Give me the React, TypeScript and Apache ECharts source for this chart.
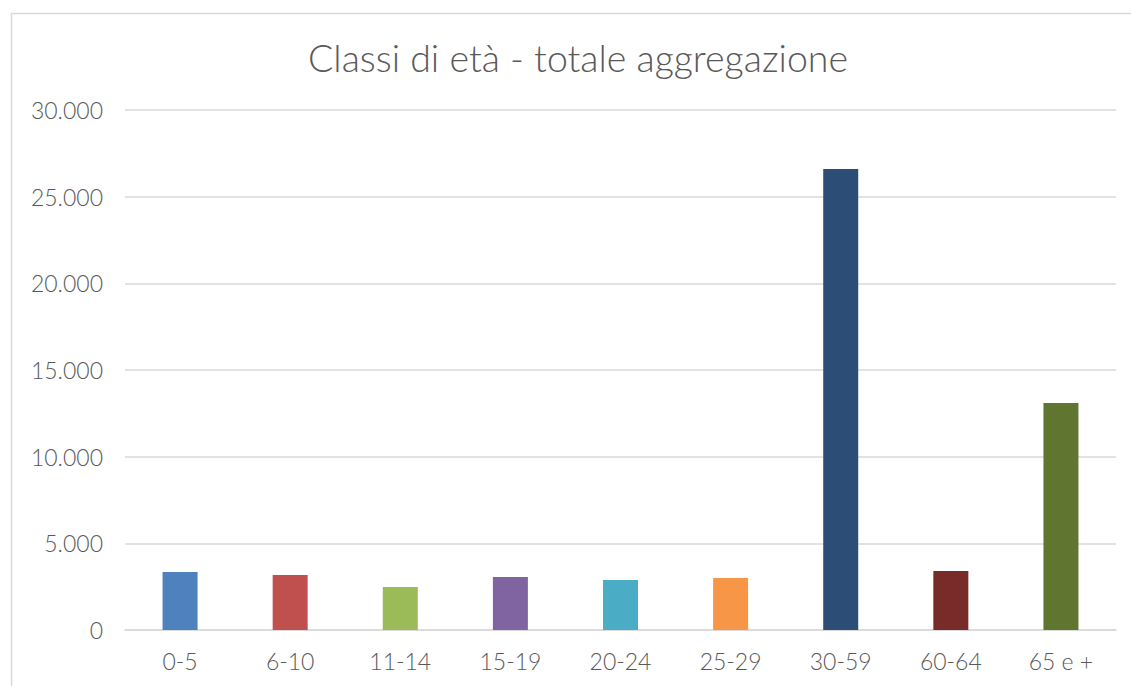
import React, { useEffect, useRef } from "react";
import * as echarts from "echarts";

const title = "Classi di età - totale aggregazione";
const categories = ["0-5", "6-10", "11-14", "15-19", "20-24", "25-29", "30-59", "60-64", "65 e +"];
const values = [3350, 3170, 2480, 3060, 2890, 3000, 26600, 3400, 13100];
const colors = ["#4f81bd", "#c0504d", "#9bbb59", "#8064a2", "#4bacc6", "#f79646", "#2c4d75", "#772c2a", "#5f7530"];
const yTicks = [0, 5000, 10000, 15000, 20000, 25000, 30000];

const fmt = (v: number) => (v === 0 ? "0" : String(v).replace(/\B(?=(\d{3})+(?!\d))/g, "."));

export default function App() {
  const ref = useRef<HTMLDivElement>(null);
  useEffect(() => {
    if (!ref.current) return;
    const chart = echarts.init(ref.current, undefined, { renderer: "svg" });
    const fontFamily = "Lato, 'Open Sans', sans-serif";
    chart.setOption({
      animation: false,
      backgroundColor: "#ffffff",
      title: {
        text: title,
        left: 573,
        top: 33,
        textAlign: "center",
        textStyle: { fontFamily, fontSize: 37.5, fontWeight: 300, color: "#595959" },
      },
      graphic: [
        {
          type: "rect",
          shape: { x: 11.5, y: 13.5, width: 1300, height: 900 },
          style: { fill: "none", stroke: "#d9d9d9", lineWidth: 1.5 },
          silent: true,
        },
      ],
      grid: { left: 125, right: 15, top: 110, bottom: 56, containLabel: false },
      xAxis: {
        type: "category",
        data: categories,
        axisLine: { show: true, lineStyle: { color: "#d9d9d9", width: 1.5 } },
        axisTick: { show: false },
        axisLabel: { fontFamily, fontSize: 23, fontWeight: 300, color: "#595959", margin: 19 },
      },
      yAxis: {
        type: "value",
        min: yTicks[0],
        max: yTicks[yTicks.length - 1],
        interval: 5000,
        axisLine: { show: false },
        axisTick: { show: false },
        splitLine: { lineStyle: { color: "#d9d9d9", width: 1.5 } },
        axisLabel: {
          fontFamily,
          fontSize: 23,
          fontWeight: 300,
          color: "#595959",
          margin: 22,
          formatter: (v: number) => fmt(v),
        },
      },
      series: [
        {
          type: "bar",
          barWidth: 35,
          data: values.map((v, i) => ({ value: v, itemStyle: { color: colors[i] } })),
        },
      ],
    });
    return () => chart.dispose();
  }, []);
  return (
    <div
      ref={ref}
      style={{ position: "absolute", left: 0, top: 0, width: 1131, height: 686 }}
    />
  );
}
